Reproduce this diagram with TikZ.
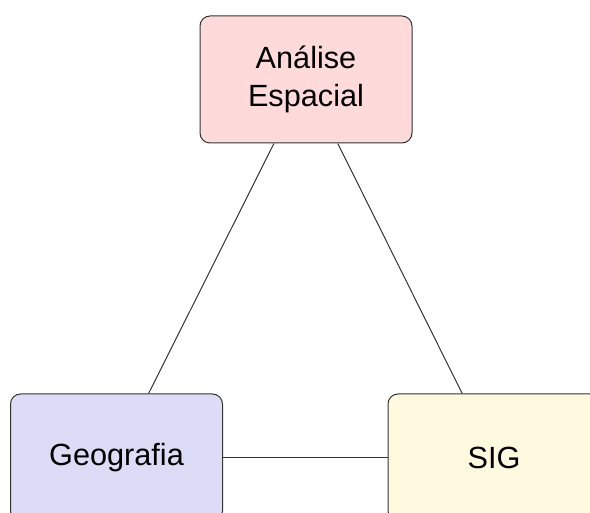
\documentclass[tikz,border=0pt]{standalone}
\usepackage{fontspec}
\setmainfont{Liberation Sans}
\usepackage{xcolor}
\definecolor{AnaliseCol}{HTML}{FFDADB}
\definecolor{GeoCol}{HTML}{DCDCF6}
\definecolor{SigCol}{HTML}{FFFADF}
\definecolor{EdgeCol}{HTML}{333333}

\tikzset{
	areabox/.style = {draw = EdgeCol, line width = 0.75pt, rounded corners = 7.5pt,
		minimum width = 159pt, minimum height = 95.25pt, align = center,
		font = \fontsize{23}{28.5}\selectfont},
	link/.style = {draw = EdgeCol, line width = 0.75pt}
}

\begin{document}
\begin{tikzpicture}[x = 0.75pt, y = -0.75pt]
	\useasboundingbox (0, 0) rectangle (590, 513);
	\node[areabox, fill = AnaliseCol] (analise) at (306, 79.5) {Análise\\Espacial};
	\node[areabox, fill = GeoCol] (geo) at (116.5, 457.5) {Geografia};
	\node[areabox, fill = SigCol] (sig) at (494, 457.5) {SIG};
	\draw[link] (analise) -- (geo);
	\draw[link] (analise) -- (sig);
	\draw[link] (geo) -- (sig);
\end{tikzpicture}
\end{document}
